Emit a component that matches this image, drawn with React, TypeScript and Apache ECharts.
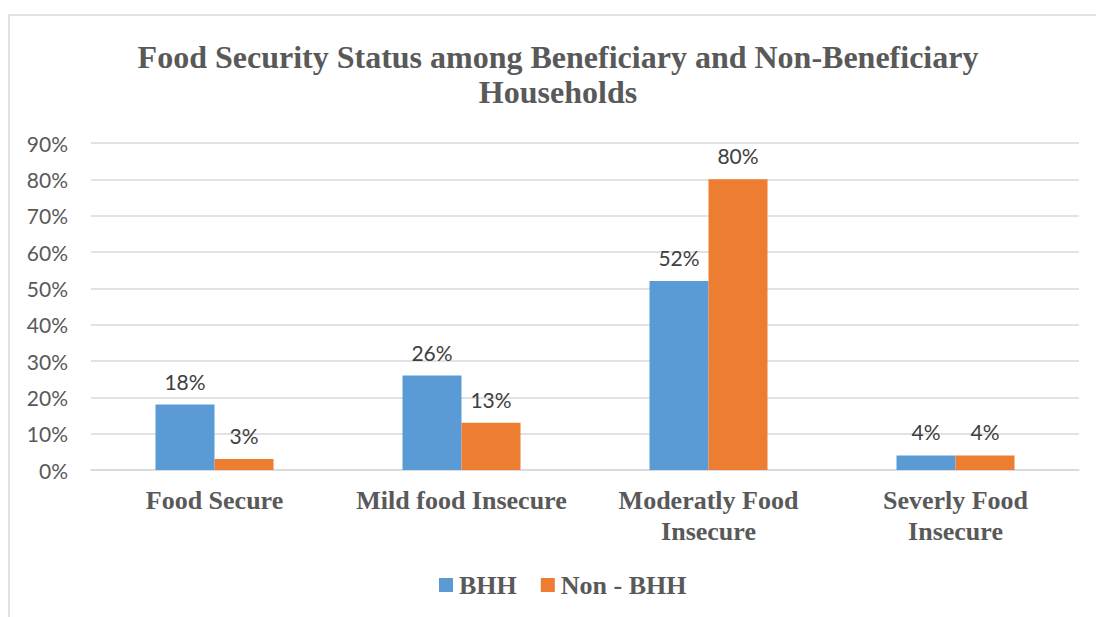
import React, { useEffect, useRef } from "react";
import * as echarts from "echarts";

const categories = ["Food Secure", "Mild food Insecure", "Moderatly Food\nInsecure", "Severly Food\nInsecure"];
const bhh = [18, 26, 52, 4];
const nonBhh = [3, 13, 80, 4];
const seriesNames = ["BHH", "Non - BHH"];
const titleText = "Food Security Status among Beneficiary and Non-Beneficiary\nHouseholds";

export default function App() {
  const ref = useRef<HTMLDivElement>(null);
  useEffect(() => {
    document.body.style.margin = "0";
    const chart = echarts.init(ref.current!, null, { renderer: "svg" });
    const labelStyle = {
      show: true,
      position: "top" as const,
      distance: 13,
      formatter: "{c}%",
      fontFamily: "Lato",
      fontSize: 21,
      color: "#404040",
    };
    chart.setOption({
      animation: false,
      backgroundColor: "#ffffff",
      title: {
        text: titleText,
        left: 553,
        textAlign: "center",
        top: 34,
        textStyle: {
          fontFamily: "Liberation Serif",
          fontWeight: "bold",
          fontSize: 32,
          lineHeight: 35,
          color: "#595959",
        },
      },
      graphic: [
        {
          type: "rect",
          shape: { x: 9, y: 15, width: 1200, height: 700 },
          style: { fill: "none", stroke: "#d9d9d9", lineWidth: 1.5 },
          silent: true,
        },
      ],
      legend: {
        data: seriesNames,
        left: 434,
        top: 567,
        orient: "horizontal",
        itemWidth: 14,
        itemHeight: 14,
        itemGap: 24,
        textStyle: {
          fontFamily: "Liberation Serif",
          fontWeight: "bold",
          fontSize: 26,
          color: "#595959",
          padding: [0, 0, 0, 1],
        },
        icon: "rect",
      },
      grid: { left: 91, right: 17, top: 143, bottom: 147, containLabel: false },
      xAxis: {
        type: "category",
        data: categories,
        axisLine: { show: true, lineStyle: { color: "#d9d9d9", width: 1.5 } },
        axisTick: { show: false },
        axisLabel: {
          margin: 15,
          fontFamily: "Liberation Serif",
          fontWeight: "bold",
          fontSize: 26,
          lineHeight: 31,
          color: "#595959",
          interval: 0,
        },
      },
      yAxis: {
        type: "value",
        min: 0,
        max: 90,
        interval: 10,
        axisLine: { show: false },
        axisTick: { show: false },
        splitLine: { lineStyle: { color: "#d9d9d9", width: 1.5 } },
        axisLabel: {
          formatter: "{value}%",
          margin: 23,
          fontFamily: "Lato",
          fontSize: 21,
          color: "#595959",
        },
      },
      series: [
        {
          name: seriesNames[0],
          type: "bar",
          data: bhh,
          barWidth: 59,
          barGap: "0%",
          itemStyle: { color: "#5B9BD5" },
          label: labelStyle,
        },
        {
          name: seriesNames[1],
          type: "bar",
          data: nonBhh,
          barWidth: 59,
          itemStyle: { color: "#ED7D31" },
          label: labelStyle,
        },
      ],
    });
    return () => chart.dispose();
  }, []);
  return <div ref={ref} style={{ width: 1096, height: 617 }} />;
}
